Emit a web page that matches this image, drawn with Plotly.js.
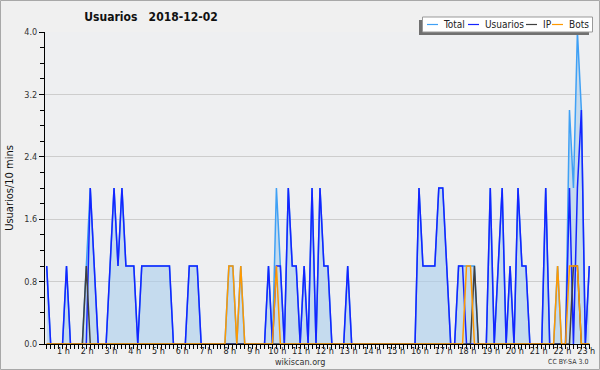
<!DOCTYPE html>
<html><head><meta charset="utf-8">
<script src="https://cdn.plot.ly/plotly-3.0.1.min.js"></script>
<style>html,body{margin:0;padding:0;background:#f0f0f0;}#chart{width:600px;height:370px;}</style>
</head><body><div id="chart"></div>
<script>
// 10-minute bins (index 0..137)
const totalVals = [1,0,0,0,0,1,0,0,0,0, 1,2,1,0,0,0,1,2,1,2, 1,1,1,0,1,1,1,1,1,1, 1,1,0,0,0,0,1,1,1,0,
  0,0,0,0,0,0,1,1,0,1, 0,0,0,0,0,0,1,0,2,1, 0,2,1,1,0,1,0,2,0,2, 1,1,0,0,0,0,1,0,0,0,
  0,0,0,0,0,0,0,0,0,0, 0,0,0,0,2,1,1,1,1,2, 2,1,0,0,1,1,1,1,1,0, 0,0,2,0,1,2,0,1,0,2,
  1,1,0,0,0,0,2,0,0,1, 0,0,3,2,4,3,0,1];
const usuariosVals = [1,0,0,0,0,1,0,0,0,0, 0,2,1,0,0,0,1,2,1,2, 1,1,1,0,1,1,1,1,1,1, 1,1,0,0,0,0,1,1,1,0,
  0,0,0,0,0,0,0,0,0,0, 0,0,0,0,0,0,1,0,1,1, 0,2,1,1,0,1,0,2,0,2, 1,1,0,0,0,0,1,0,0,0,
  0,0,0,0,0,0,0,0,0,0, 0,0,0,0,2,1,1,1,1,2, 2,1,0,0,1,1,0,0,0,0, 0,0,2,0,1,2,0,1,0,2,
  1,1,0,0,0,0,2,0,0,0, 0,0,2,0,2,3,0,1];
const ipVals = [0,0,0,0,0,0,0,0,0,0, 1,0,0,0,0,0,0,0,0,0, 0,0,0,0,0,0,0,0,0,0, 0,0,0,0,0,0,0,0,0,0,
  0,0,0,0,0,0,0,0,0,0, 0,0,0,0,0,0,0,0,0,0, 0,0,0,0,0,0,0,0,0,0, 0,0,0,0,0,0,0,0,0,0,
  0,0,0,0,0,0,0,0,0,0, 0,0,0,0,0,0,0,0,0,0, 0,0,0,0,0,0,0,0,1,0, 0,0,0,0,0,0,0,0,0,0,
  0,0,0,0,0,0,0,0,0,0, 0,0,0,1,1,0,0,0];
const botsVals = [0,0,0,0,0,0,0,0,0,0, 0,0,0,0,0,0,0,0,0,0, 0,0,0,0,0,0,0,0,0,0, 0,0,0,0,0,0,0,0,0,0,
  0,0,0,0,0,0,1,1,0,1, 0,0,0,0,0,0,0,0,1,0, 0,0,0,0,0,0,0,0,0,0, 0,0,0,0,0,0,0,0,0,0,
  0,0,0,0,0,0,0,0,0,0, 0,0,0,0,0,0,0,0,0,0, 0,0,0,0,0,0,1,1,0,0, 0,0,0,0,0,0,0,0,0,0,
  0,0,0,0,0,0,0,0,0,1, 0,0,1,1,1,0,0,0];
const hourLabels = ["1 h","2 h","3 h","4 h","5 h","6 h","7 h","8 h","9 h","10 h","11 h","12 h",
  "13 h","14 h","15 h","16 h","17 h","18 h","19 h","20 h","21 h","22 h","23 h"];
const yTickVals = [0,0.8,1.6,2.4,3.2,4.0];
const yTickText = ["0.0","0.8","1.6","2.4","3.2","4.0"];

const idx = totalVals.map((_, i) => i);
const hourPos = hourLabels.map((_, k) => 6*(k+1) - 1.77);

const FONT = '"DejaVu Sans Condensed", "DejaVu Sans", sans-serif';
const L = 45, R = 10, T = 32, B = 26, W = 600, H = 370;
const pw = W - L - R, ph = H - T - B;
const X = px => (px - L) / pw;
const Y = py => (H - B - py) / ph;

const traces = [
  {x: idx, y: totalVals, name: 'Total', type: 'scatter', mode: 'lines', fill: 'tozeroy',
   fillcolor: 'rgba(170,205,236,0.6)', line: {color: '#3fa0f5', width: 1.5}},
  {x: idx, y: usuariosVals, name: 'Usuarios', type: 'scatter', mode: 'lines', line: {color: '#1424ff', width: 1.5}},
  {x: idx, y: ipVals, name: 'IP', type: 'scatter', mode: 'lines', line: {color: '#404040', width: 1.5}},
  {x: idx, y: botsVals, name: 'Bots', type: 'scatter', mode: 'lines', line: {color: '#ff9900', width: 1.5}}
];

const legItems = [
  {name: 'Total', color: '#3fa0f5', lx: 427, tx: 441},
  {name: 'Usuarios', color: '#1424ff', lx: 468, tx: 483},
  {name: 'IP', color: '#404040', lx: 526, tx: 541},
  {name: 'Bots', color: '#ff9900', lx: 552, tx: 567}
];
const shapes = [
  {type: 'rect', xref: 'paper', yref: 'paper', x0: X(0.5), x1: X(599.5), y0: Y(369.5), y1: Y(0.5),
   line: {color: '#a8a8a8', width: 1}, fillcolor: 'rgba(0,0,0,0)', layer: 'below'},
  {type: 'rect', xref: 'paper', yref: 'paper', x0: X(419), x1: X(589), y0: Y(35), y1: Y(20),
   line: {width: 0}, fillcolor: '#707070'},
  {type: 'rect', xref: 'paper', yref: 'paper', x0: X(422.5), x1: X(592.5), y0: Y(32), y1: Y(17),
   line: {color: '#999999', width: 1}, fillcolor: '#ffffff'}
];
const annotations = [
  {text: 'wikiscan.org', xref: 'paper', yref: 'paper', x: X(300), y: Y(362), xanchor: 'center', yanchor: 'middle',
   showarrow: false, font: {family: FONT, size: 9, color: '#333'}},
  {text: 'CC BY-SA 3.0', xref: 'paper', yref: 'paper', x: X(590), y: Y(362), xanchor: 'right', yanchor: 'middle',
   showarrow: false, font: {family: FONT, size: 7, color: '#333'}}
];
legItems.forEach(it => {
  shapes.push({type: 'line', xref: 'paper', yref: 'paper', x0: X(it.lx), x1: X(it.lx + 11), y0: Y(24.5), y1: Y(24.5),
    line: {color: it.color, width: 1.2}});
  annotations.push({text: it.name, xref: 'paper', yref: 'paper', x: X(it.tx), y: Y(24.5), xanchor: 'left',
    yanchor: 'middle', showarrow: false, font: {family: FONT, size: 10, color: '#222'}});
});

const layout = {
  width: W, height: H,
  margin: {l: L, r: R, t: T, b: B, pad: 0},
  paper_bgcolor: '#f0f0f0', plot_bgcolor: '#eeeff1',
  showlegend: false,
  title: {text: '<b>Usuarios   2018-12-02</b>', x: X(151), xanchor: 'center', xref: 'paper', y: 1 - 17/H, yanchor: 'middle',
    font: {family: FONT, size: 12, color: '#111'}},
  xaxis: {range: [-0.43, 137.18], showgrid: false, zeroline: false, showline: true, linecolor: '#000', linewidth: 1,
    tickmode: 'array', tickvals: hourPos, ticktext: hourLabels, ticks: '', ticklabelstandoff: -2,
    tickfont: {family: FONT, size: 9, color: '#222'},
    minor: {tickmode: 'linear', tick0: 0, dtick: 1, ticks: 'outside', ticklen: 4, tickcolor: '#000', tickwidth: 1, showgrid: false},
    fixedrange: true},
  yaxis: {range: [0, 4], showgrid: true, gridcolor: '#cdcdcd', gridwidth: 1, zeroline: false, showline: true,
    linecolor: '#000', linewidth: 1, tickmode: 'array', tickvals: yTickVals, ticktext: yTickText,
    ticks: 'outside', ticklen: 5, tickcolor: '#000', tickfont: {family: FONT, size: 9, color: '#333'},
    minor: {tickmode: 'linear', tick0: 0, dtick: 0.2, ticks: 'outside', ticklen: 4, tickcolor: '#000', showgrid: false},
    title: {text: 'Usuarios/10 mins', font: {family: FONT, size: 11, color: '#111'}, standoff: 8},
    fixedrange: true},
  shapes: shapes,
  annotations: annotations
};
Plotly.newPlot('chart', traces, layout, {staticPlot: true, displayModeBar: false});
</script></body></html>
